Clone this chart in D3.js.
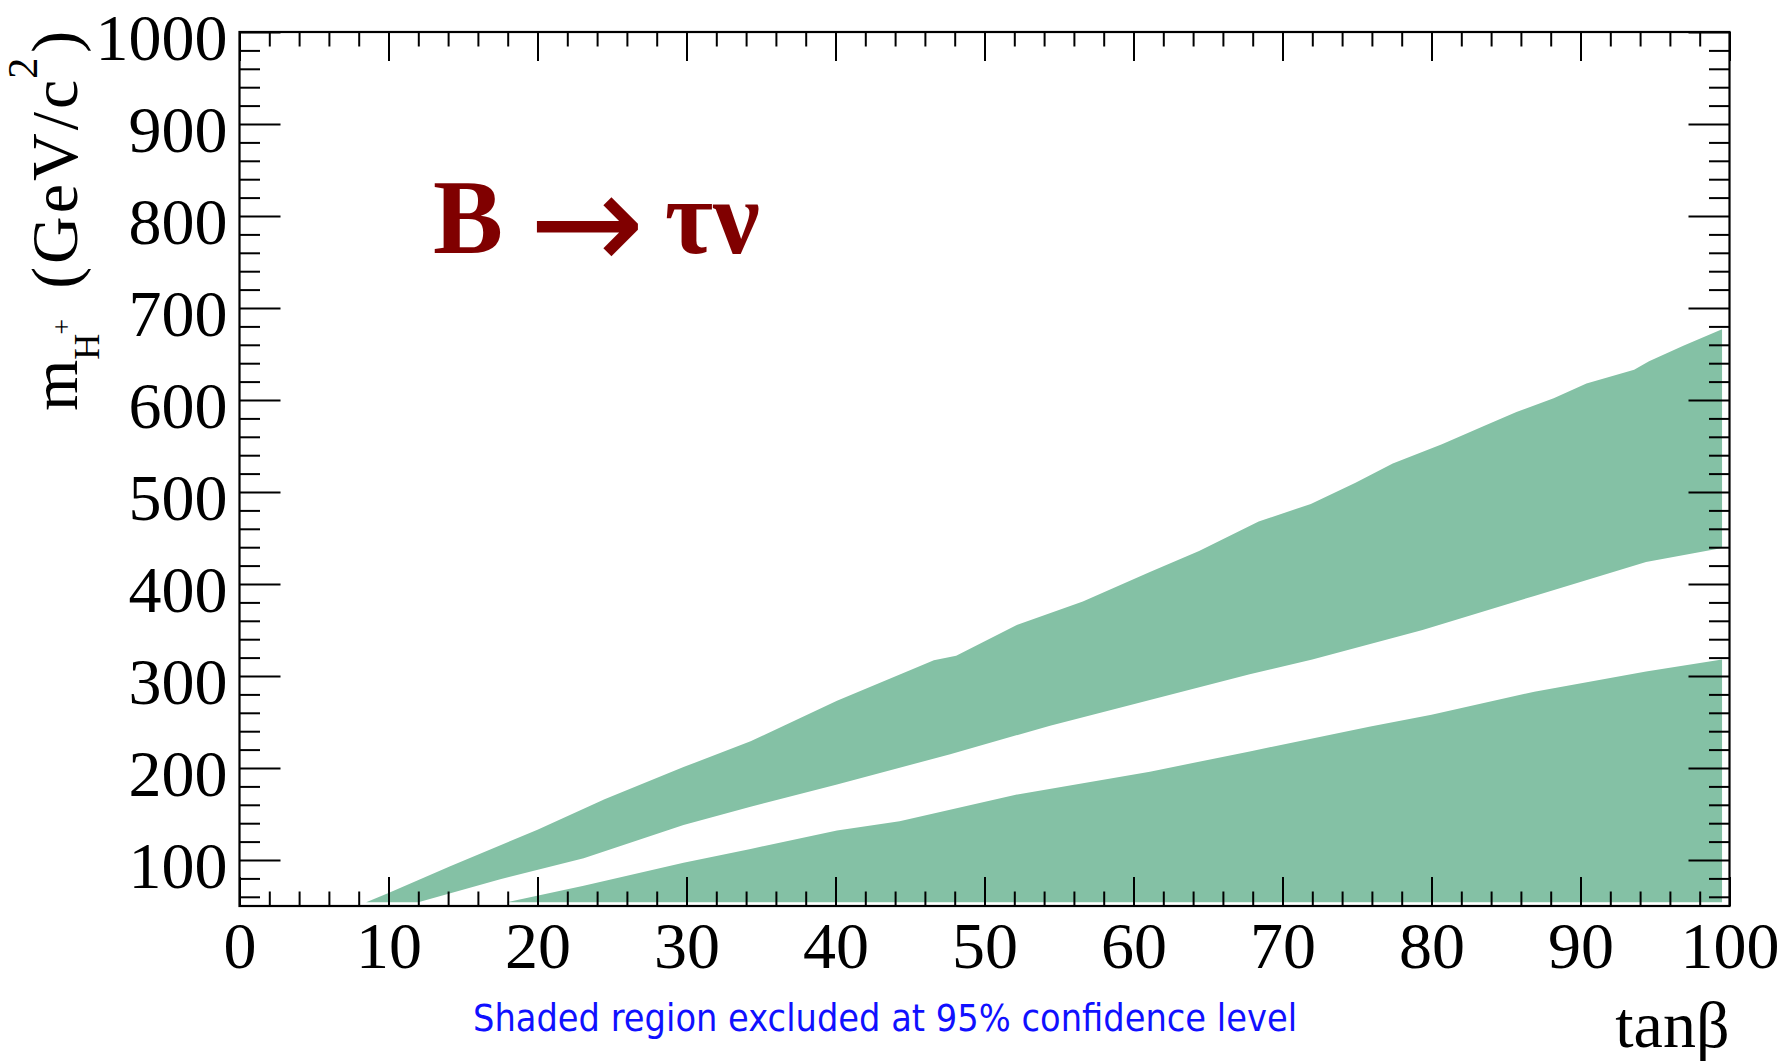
<!DOCTYPE html>
<html>
<head>
<meta charset="utf-8">
<script src="https://cdn.jsdelivr.net/npm/d3@7"></script>
<style>
  body { margin: 0; background: #ffffff; }
  svg { display: block; }
</style>
</head>
<body>
<svg id="chart" width="1784" height="1061"></svg>
<script>
// ---- data: excluded regions in the (tan beta, m_H+) plane ----
// upper excluded band, upper boundary [tanβ, m_H+ (GeV/c²)]
const upperBandTop = [
  [8.5, 54], [10, 64], [14.1, 93], [20, 133], [24.5, 166], [29.8, 201],
  [34.3, 229], [40.1, 273], [45.4, 309], [46.6, 317], [48.1, 322],
  [52.1, 355], [56.6, 381], [61.1, 413], [64.4, 436], [68.4, 468],
  [71.9, 487], [74.9, 510], [77.4, 531], [80.7, 552], [83.4, 571],
  [85.7, 587], [88.2, 602], [90.4, 618], [93.6, 633], [94.6, 642],
  [96.9, 659], [99.5, 677]
];
// upper excluded band, lower boundary
const upperBandBottom = [
  [12, 54], [17.5, 79], [23.1, 102], [29.8, 138], [34.3, 158],
  [40.1, 182], [47.7, 215], [54.4, 246], [61.1, 274], [67.8, 302],
  [72, 318], [79.4, 350], [86.9, 387], [94.4, 424], [99.5, 439]
];
// lower excluded region, upper boundary (region extends down to the floor)
const lowerRegionTop = [
  [17.9, 54], [23.1, 72], [29.8, 97], [34.3, 112], [40.1, 132],
  [44.3, 142], [52.1, 171], [61.1, 196], [67.8, 218], [75.9, 245],
  [80, 258], [86.9, 283], [94.4, 305], [99.5, 318]
];
const regionFloor = 54;

// ---- axes ----
const xDomain = [0, 100];
const yDomain = [50, 1000];
const xMajorTicks = [0, 10, 20, 30, 40, 50, 60, 70, 80, 90, 100];
const xMinorTicks = d3.range(2, 100, 2).filter(v => v % 10 !== 0);
const yMajorTicks = [100, 200, 300, 400, 500, 600, 700, 800, 900, 1000];
const yMinorTicks = d3.range(60, 1000, 20).filter(v => v % 100 !== 0);

const xTitle = "tan\u03b2";
const noteText = "Shaded region excluded at 95% confidence level";

// ---- layout ----
const svg = d3.select("#chart");
const plot = { left: 239.5, right: 1729.5, top: 32, bottom: 906 };
const x = d3.scaleLinear().domain(xDomain).range([plot.left, plot.right]);
const y = d3.scaleLinear().domain(yDomain).range([plot.bottom, plot.top]);

const fillColor = "#84c1a5";
const serif = "'Liberation Serif', 'Times New Roman', serif";

// shaded regions
const poly = d3.line().x(d => x(d[0])).y(d => y(d[1]));
const upperBand = upperBandTop.concat(upperBandBottom.slice().reverse());
const lastTop = lowerRegionTop[lowerRegionTop.length - 1];
const lowerRegion = lowerRegionTop.concat([[lastTop[0], regionFloor], [lowerRegionTop[0][0], regionFloor]]);

svg.append("path").attr("d", poly(upperBand) + "Z").attr("fill", fillColor);
svg.append("path").attr("d", poly(lowerRegion) + "Z").attr("fill", fillColor);

// ticks
const tickStyle = g => {
  g.select(".domain").remove();
  g.selectAll(".tick line").attr("stroke", "#000").attr("stroke-width", 2);
};

svg.append("g").attr("transform", `translate(0,${plot.bottom})`)
  .call(d3.axisBottom(x).tickValues(xMinorTicks).tickSize(-14.5).tickSizeOuter(0).tickFormat(""))
  .call(tickStyle);
const xAxisG = svg.append("g").attr("transform", `translate(0,${plot.bottom})`)
  .call(d3.axisBottom(x).tickValues(xMajorTicks).tickSize(-29).tickSizeOuter(0).tickFormat(d3.format("d")))
  .call(tickStyle);
xAxisG.selectAll(".tick text")
  .attr("y", 62).attr("dy", null)
  .attr("font-family", serif).attr("font-size", 66).attr("fill", "#000");

svg.append("g").attr("transform", `translate(0,${plot.top})`)
  .call(d3.axisTop(x).tickValues(xMinorTicks).tickSize(-14.5).tickSizeOuter(0).tickFormat(""))
  .call(tickStyle);
svg.append("g").attr("transform", `translate(0,${plot.top})`)
  .call(d3.axisTop(x).tickValues(xMajorTicks).tickSize(-29).tickSizeOuter(0).tickFormat(""))
  .call(tickStyle);

svg.append("g").attr("transform", `translate(${plot.left},0)`)
  .call(d3.axisLeft(y).tickValues(yMinorTicks).tickSize(-20.5).tickSizeOuter(0).tickFormat(""))
  .call(tickStyle);
const yAxisG = svg.append("g").attr("transform", `translate(${plot.left},0)`)
  .call(d3.axisLeft(y).tickValues(yMajorTicks).tickSize(-41).tickSizeOuter(0).tickFormat(d3.format("d")))
  .call(tickStyle);
yAxisG.selectAll(".tick text")
  .attr("x", -12).attr("dy", "0.41em")
  .attr("font-family", serif).attr("font-size", 66).attr("fill", "#000");

svg.append("g").attr("transform", `translate(${plot.right},0)`)
  .call(d3.axisRight(y).tickValues(yMinorTicks).tickSize(-20.5).tickSizeOuter(0).tickFormat(""))
  .call(tickStyle);
svg.append("g").attr("transform", `translate(${plot.right},0)`)
  .call(d3.axisRight(y).tickValues(yMajorTicks).tickSize(-41).tickSizeOuter(0).tickFormat(""))
  .call(tickStyle);

// frame
svg.append("rect")
  .attr("x", plot.left).attr("y", plot.top)
  .attr("width", plot.right - plot.left).attr("height", plot.bottom - plot.top)
  .attr("fill", "none").attr("stroke", "#000").attr("stroke-width", 2.2);

// x-axis title
svg.append("text")
  .attr("x", plot.right).attr("y", 1047)
  .attr("text-anchor", "end")
  .attr("font-family", serif).attr("font-size", 66).attr("fill", "#000")
  .text(xTitle);

// y-axis title: m_{H^+} (GeV/c^2), rotated
const yt = svg.append("text")
  .attr("transform", "translate(77,411) rotate(-90)")
  .attr("font-family", serif).attr("font-size", 66).attr("fill", "#000");
yt.append("tspan").text("m");
yt.append("tspan").attr("font-size", 36).attr("dy", 22).text("H");
yt.append("tspan").attr("font-size", 28).attr("dy", -28).attr("dx", -1).text("+");
yt.append("tspan").attr("dy", 6).attr("dx", 30).attr("letter-spacing", 3).text("(GeV/c");
yt.append("tspan").attr("font-size", 42).attr("dy", -40).attr("dx", -2).text("2");
yt.append("tspan").attr("dy", 40).attr("dx", 5).text(")");

// process label: B → τν
const title = svg.append("text")
  .attr("x", 433).attr("y", 253)
  .attr("font-family", serif).attr("font-weight", "bold")
  .attr("font-size", 105).attr("fill", "#800000");
title.append("tspan").text("B");
title.append("tspan")
  .attr("font-family", "'DejaVu Sans', sans-serif").attr("font-weight", "normal")
  .attr("font-size", 138).attr("dx", 26).attr("dy", 17)
  .text("\u2192");
title.append("tspan").attr("dx", 20).attr("dy", -17).text("\u03c4\u03bd");

// footnote
svg.append("text")
  .attr("x", 473).attr("y", 1031)
  .attr("font-family", "'DejaVu Sans', sans-serif").attr("font-size", 37)
  .attr("fill", "#1010ff")
  .attr("textLength", 824).attr("lengthAdjust", "spacingAndGlyphs")
  .text(noteText);
</script>
</body>
</html>
